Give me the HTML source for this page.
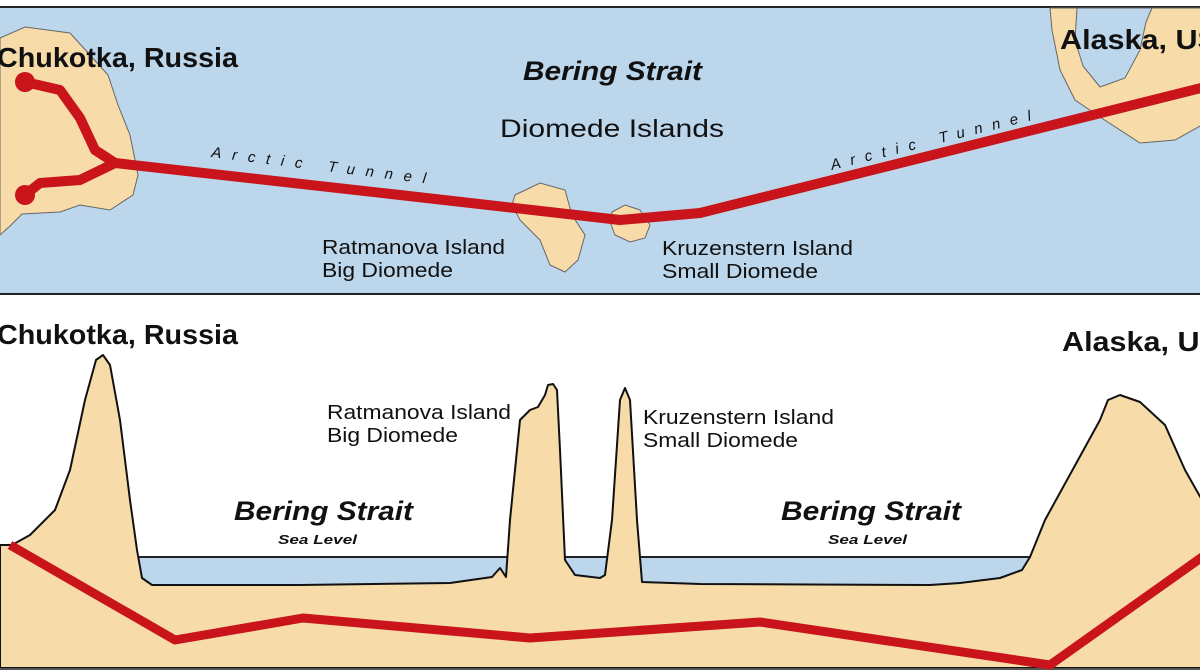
<!DOCTYPE html>
<html><head><meta charset="utf-8"><style>
html,body{margin:0;padding:0;background:#fff;}
svg{display:block;}
text{font-family:"Liberation Sans",Arial,sans-serif;fill:#111;}
</style></head><body>
<svg width="1200" height="672" viewBox="0 0 1200 672" xmlns="http://www.w3.org/2000/svg">
<!-- TOP MAP -->
<rect x="-2" y="7" width="1204" height="287" fill="#bcd6ec" stroke="#222" stroke-width="2"/>
<path d="M0,38 L25,27 L70,33 L90,55 L108,75 L118,105 L130,135 L138,175 L133,195 L110,210 L80,205 L60,212 L22,214 L10,226 L0,235 Z" fill="#f7dcaa" stroke="#666" stroke-width="1"/>
<path d="M1050,8 L1052,30 L1060,70 L1075,100 L1100,117 L1140,143 L1175,140 L1202,125 L1202,8 Z" fill="#f7dcaa" stroke="#666" stroke-width="1"/>
<path d="M1077,8 L1075,40 L1083,66 L1100,87 L1125,78 L1140,50 L1146,22 L1152,8 Z" fill="#bcd6ec" stroke="#666" stroke-width="1"/>
<path d="M515,195 L540,183 L565,190 L572,215 L585,235 L578,260 L565,272 L550,265 L540,240 L520,220 L512,205 Z" fill="#f7dcaa" stroke="#666" stroke-width="1"/>
<path d="M612,212 L625,205 L640,210 L650,225 L645,238 L630,242 L615,235 L610,222 Z" fill="#f7dcaa" stroke="#666" stroke-width="1"/>
<g fill="none" stroke="#c8141a" stroke-width="10" stroke-linejoin="round" stroke-linecap="round">
<path d="M25,82 L60,90 L80,118 L95,150 L115,163"/>
<path d="M25,195 L40,183 L80,180 L115,163"/>
<path d="M115,163 L400,195 L620,220 L700,213 L1205,87"/>
</g>
<circle cx="25" cy="82" r="10" fill="#c8141a"/>
<circle cx="25" cy="195" r="10" fill="#c8141a"/>
<text x="-3" y="67" font-size="28" font-weight="bold" textLength="241" lengthAdjust="spacingAndGlyphs">Chukotka, Russia</text>
<text x="1060" y="49" font-size="28" font-weight="bold" textLength="180" lengthAdjust="spacingAndGlyphs">Alaska, USA</text>
<text x="523" y="80" font-size="27" font-weight="bold" font-style="italic" textLength="179" lengthAdjust="spacingAndGlyphs">Bering Strait</text>
<text x="500" y="137" font-size="25" textLength="224" lengthAdjust="spacingAndGlyphs">Diomede Islands</text>
<text x="0" y="0" font-size="15" font-style="italic" textLength="216" transform="translate(211,157) rotate(7)">Arctic Tunnel</text>
<text x="0" y="0" font-size="15" font-style="italic" textLength="206" transform="translate(832,170) rotate(-14)">Arctic Tunnel</text>
<text x="322" y="254" font-size="20" textLength="183" lengthAdjust="spacingAndGlyphs">Ratmanova Island</text>
<text x="322" y="277" font-size="20" textLength="131" lengthAdjust="spacingAndGlyphs">Big Diomede</text>
<text x="662" y="255" font-size="20" textLength="191" lengthAdjust="spacingAndGlyphs">Kruzenstern Island</text>
<text x="662" y="278" font-size="20" textLength="156" lengthAdjust="spacingAndGlyphs">Small Diomede</text>
<!-- BOTTOM PROFILE -->
<rect x="138" y="557" width="890" height="32" fill="#bcd6ec"/>
<line x1="138" y1="557" x2="1030" y2="557" stroke="#222" stroke-width="2"/>
<path d="M0,545 L12,545 L30,535 L55,510 L70,470 L85,400 L96,360 L103,355 L110,365 L120,420 L130,500 L137,550 L142,578 L152,585 L300,585 L450,583 L492,577 L500,568 L506,577 L510,520 L520,420 L530,410 L538,407 L545,395 L548,385 L553,384 L557,390 L560,450 L565,560 L575,575 L600,578 L605,575 L612,520 L620,400 L625,388 L630,400 L637,520 L642,582 L700,584 L930,585 L960,583 L1000,578 L1022,570 L1030,557 L1045,520 L1100,420 L1108,400 L1120,395 L1140,402 L1165,425 L1185,470 L1202,500 L1202,668 L0,668 Z" fill="#f7dcaa" stroke="#111" stroke-width="2" stroke-linejoin="round"/>
<line x1="0" y1="669" x2="1200" y2="669" stroke="#555" stroke-width="2"/>
<path d="M10,545 L175,640 L303,618 L530,638 L760,622 L1050,665 L1205,555" fill="none" stroke="#c8141a" stroke-width="9" stroke-linejoin="round"/>
<text x="-3" y="344" font-size="28" font-weight="bold" textLength="241" lengthAdjust="spacingAndGlyphs">Chukotka, Russia</text>
<text x="1062" y="351" font-size="28" font-weight="bold" textLength="180" lengthAdjust="spacingAndGlyphs">Alaska, USA</text>
<text x="327" y="419" font-size="20" textLength="184" lengthAdjust="spacingAndGlyphs">Ratmanova Island</text>
<text x="327" y="442" font-size="20" textLength="131" lengthAdjust="spacingAndGlyphs">Big Diomede</text>
<text x="643" y="424" font-size="20" textLength="191" lengthAdjust="spacingAndGlyphs">Kruzenstern Island</text>
<text x="643" y="447" font-size="20" textLength="155" lengthAdjust="spacingAndGlyphs">Small Diomede</text>
<text x="234" y="520" font-size="27" font-weight="bold" font-style="italic" textLength="179" lengthAdjust="spacingAndGlyphs">Bering Strait</text>
<text x="278" y="544" font-size="13" font-weight="bold" font-style="italic" textLength="79" lengthAdjust="spacingAndGlyphs">Sea Level</text>
<text x="781" y="520" font-size="27" font-weight="bold" font-style="italic" textLength="180" lengthAdjust="spacingAndGlyphs">Bering Strait</text>
<text x="828" y="544" font-size="13" font-weight="bold" font-style="italic" textLength="79" lengthAdjust="spacingAndGlyphs">Sea Level</text>
</svg>
</body></html>
